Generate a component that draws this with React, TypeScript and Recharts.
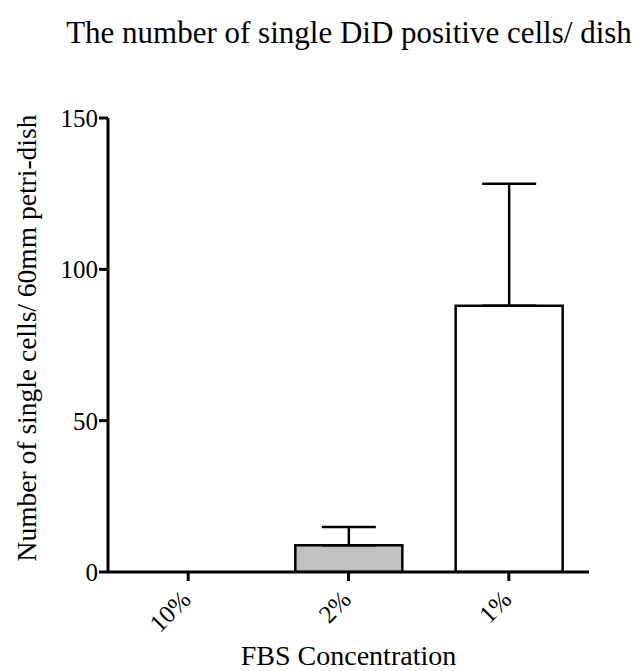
import React from "react";
import { BarChart, Bar, XAxis, YAxis, ErrorBar, Cell, Label } from "recharts";

const categories = ["10%", "2%", "1%"];
const means = [0, 8.8, 88];
const errUpper = [null, 6.1, 40.3];
const fills = ["#ffffff", "#c0c0c0", "#ffffff"];
const yTicks = [0, 50, 100, 150];

const data = categories.map((c, i) => ({
  name: c,
  value: means[i],
  err: errUpper[i] === null ? null : [0, errUpper[i]],
}));

const FONT = "Times New Roman, Times, Liberation Serif, DejaVu Serif, serif";

const XTick = (props: any) => {
  const { x, y, payload } = props;
  return (
    <g transform={`translate(${x - 8},${y + 6})`}>
      <text
        textAnchor="end"
        transform="rotate(-45)"
        dy={17}
        style={{ fontFamily: FONT }}
        fontSize={25}
        fill="#000"
      >
        {payload.value}
      </text>
    </g>
  );
};

export default function App() {
  return (
    <div style={{ position: "absolute", left: 0, top: 0, width: 637, height: 671, background: "#fff", fontFamily: FONT }}>
      <div
        style={{
          position: "absolute",
          left: 0,
          top: 16,
          width: 698,
          textAlign: "center",
          fontFamily: FONT,
          fontSize: 31,
          color: "#000",
          whiteSpace: "nowrap",
          lineHeight: "34px",
        }}
      >
        The number of single DiD positive cells/ dish
      </div>
      <BarChart
        width={637}
        height={671}
        data={data}
        margin={{ top: 118, right: 48, bottom: 0, left: 0 }}
        barSize={107}
        style={{ fontFamily: FONT }}
      >
        <XAxis
          dataKey="name"
          axisLine={{ stroke: "#000", strokeWidth: 3 }}
          tickLine={{ stroke: "#000", strokeWidth: 3 }}
          tickSize={9}
          tick={<XTick />}
          height={99}
          interval={0}
        >
          <Label
            value="FBS Concentration"
            position="insideBottom"
            offset={6}
            style={{ fontFamily: FONT, fontSize: 28, fill: "#000" }}
          />
        </XAxis>
        <YAxis
          domain={[0, 150]}
          ticks={yTicks}
          width={108}
          axisLine={{ stroke: "#000", strokeWidth: 3 }}
          tickLine={{ stroke: "#000", strokeWidth: 3 }}
          tickSize={9}
          tickMargin={1}
          tick={{ fontFamily: FONT, fontSize: 25, fill: "#000" }}
          allowDataOverflow
        >
          <Label
            value="Number of single cells/ 60mm petri-dish"
            angle={-90}
            position="insideLeft"
            offset={26}
            dy={-7}
            style={{ textAnchor: "middle", fontFamily: FONT, fontSize: 27.5, fill: "#000" }}
          />
        </YAxis>
        <Bar dataKey="value" stroke="#000" strokeWidth={2.5} isAnimationActive={false}>
          {data.map((d, i) => (
            <Cell key={i} fill={fills[i]} />
          ))}
          <ErrorBar dataKey="err" width={27} stroke="#000" strokeWidth={2.5} direction="y" />
        </Bar>
      </BarChart>
    </div>
  );
}
